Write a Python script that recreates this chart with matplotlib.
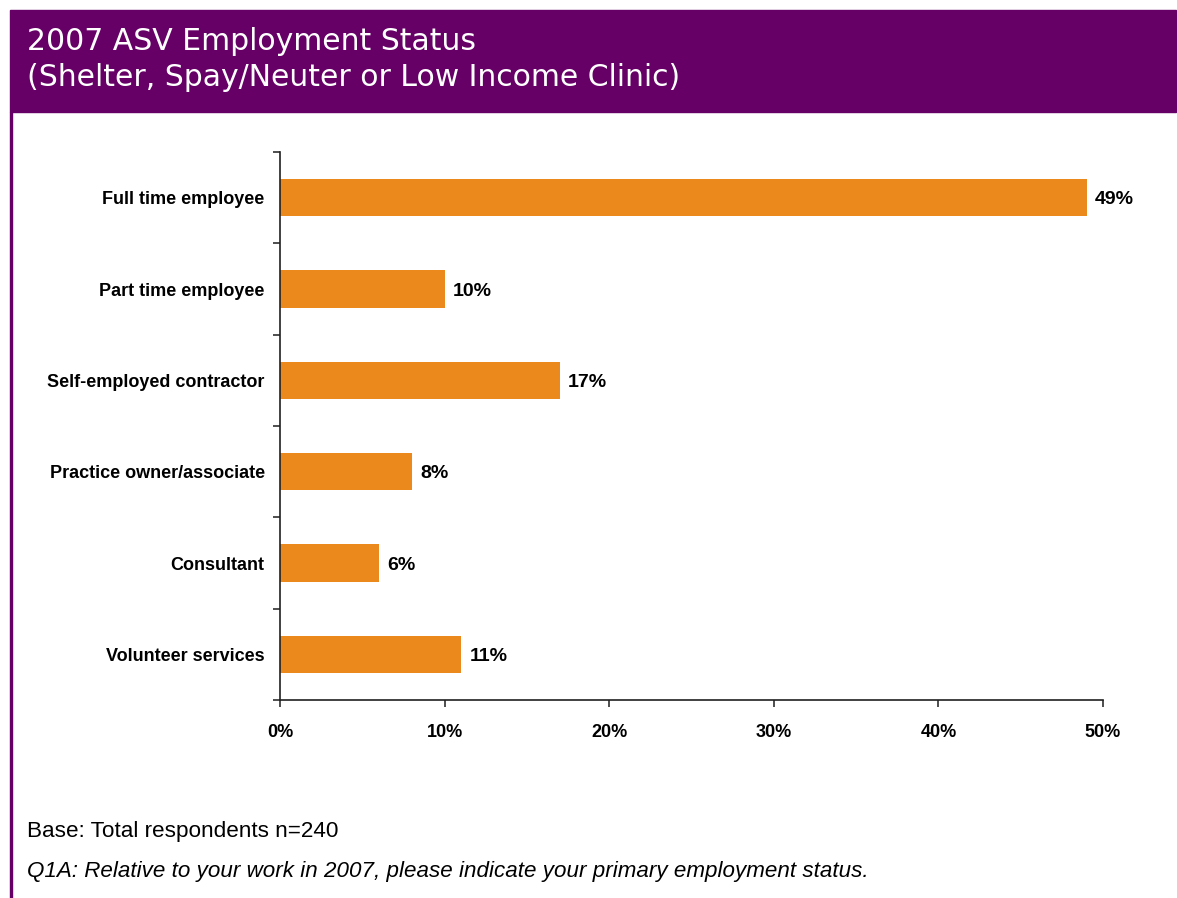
import matplotlib
matplotlib.use("Agg")
import matplotlib.pyplot as plt
from matplotlib.patches import Rectangle

categories = ["Full time employee", "Part time employee", "Self-employed contractor",
              "Practice owner/associate", "Consultant", "Volunteer services"]
values = [49, 10, 17, 8, 6, 11]
xticks = [0, 10, 20, 30, 40, 50]
xtick_labels = ["0%", "10%", "20%", "30%", "40%", "50%"]

PURPLE = "#660066"
ORANGE = "#EC891D"
W, H = 1177, 898

fig = plt.figure(figsize=(W / 100, H / 100), dpi=100)

# header band + left rule
fig.patches.append(Rectangle((10 / W, 1 - 112 / H), (1176 - 10) / W, 102 / H,
                             transform=fig.transFigure, color=PURPLE, zorder=0))
fig.patches.append(Rectangle((10 / W, 0), 2 / W, 1 - 112 / H,
                             transform=fig.transFigure, color=PURPLE, zorder=0))
fig.text(27 / W, 1 - 42 / H, "2007 ASV Employment Status", color="white",
         fontsize=21.5, family="DejaVu Sans", va="center", ha="left")
fig.text(27 / W, 1 - 78 / H, "(Shelter, Spay/Neuter or Low Income Clinic)", color="white",
         fontsize=21.5, family="DejaVu Sans", va="center", ha="left")

ax = fig.add_axes([280 / W, 1 - 700 / H, (1103 - 280) / W, (700 - 152) / H])
y = list(range(len(categories)))
ax.barh(y, values, height=0.41, color=ORANGE)
for yi, v in zip(y, values):
    ax.text(v + 0.5, yi, f"{v}%", va="center_baseline", ha="left", fontsize=14,
            fontweight="bold", family="Liberation Sans")

ax.set_xlim(0, 50)
ax.set_ylim(len(categories) - 0.5, -0.5)
ax.set_xticks(xticks)
ax.set_xticklabels(xtick_labels, fontsize=13, fontweight="bold", family="Liberation Sans")
ax.set_yticks(y)
ax.set_yticklabels(categories, fontsize=13, fontweight="bold", family="Liberation Sans")
# ticks sit between categories, labels centred on bars
ax.set_yticks([i - 0.5 for i in range(len(categories) + 1)], minor=True)
ax.tick_params(axis="y", which="major", length=0, pad=11)
ax.tick_params(axis="y", which="minor", length=5, width=1.3, direction="out", color="#404040")
ax.tick_params(axis="x", length=5, width=1.3, direction="out", pad=12, color="#404040")
for s in ["top", "right"]:
    ax.spines[s].set_visible(False)
ax.spines["left"].set_color("#202020")
ax.spines["bottom"].set_color("#202020")
ax.spines["left"].set_linewidth(1.2)
ax.spines["bottom"].set_linewidth(1.2)

fig.text(27 / W, 1 - 831 / H, "Base: Total respondents n=240", fontsize=16.2,
         family="Liberation Sans", va="center", ha="left")
fig.text(27 / W, 1 - 872 / H,
         "Q1A: Relative to your work in 2007, please indicate your primary employment status.",
         fontsize=16.1, family="Liberation Sans", style="italic", va="center", ha="left")

fig.savefig("out.png", dpi=100)
